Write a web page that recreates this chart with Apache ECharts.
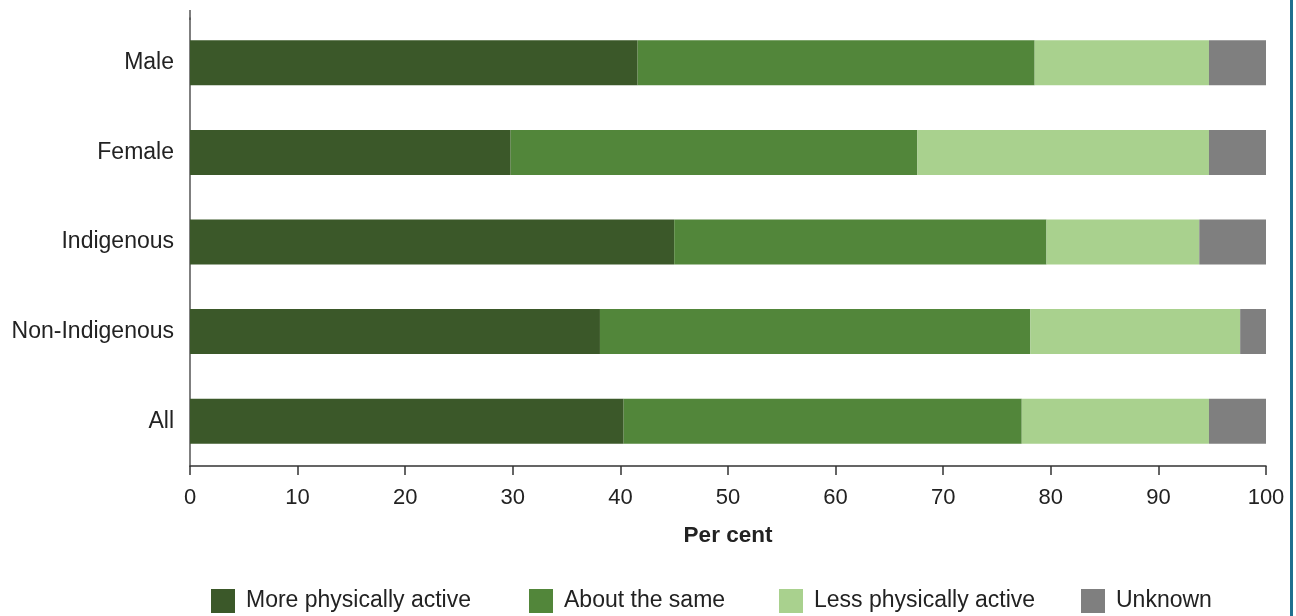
<!DOCTYPE html>
<html>
<head>
<meta charset="utf-8">
<script src="https://cdn.jsdelivr.net/npm/echarts@6/dist/echarts.min.js"></script>
<style>html,body{margin:0;padding:0;background:#fff}#c{width:1296px;height:616px}</style>
</head>
<body>
<div id="c"></div>
<script>
const categories = ['Male', 'Female', 'Indigenous', 'Non-Indigenous', 'All'];
const moreActive = [41.6, 29.8, 45.0, 38.1, 40.3];
const aboutSame = [36.9, 37.8, 34.6, 40.0, 37.0];
const lessActive = [16.2, 27.1, 14.2, 19.5, 17.4];
const unknown = [5.3, 5.3, 6.2, 2.4, 5.3];
const seriesNames = ['More physically active', 'About the same', 'Less physically active', 'Unknown'];
const colors = ['#3b5829', '#52863a', '#a9d18e', '#7f7f7f'];
const xTicks = [0, 10, 20, 30, 40, 50, 60, 70, 80, 90, 100];

const chart = echarts.init(document.getElementById('c'), null, {renderer: 'canvas'});
const data = [moreActive, aboutSame, lessActive, unknown];
const font = 'Liberation Sans, Arial, sans-serif';
const legendLefts = [211, 529, 779, 1081];
chart.setOption({
  animation: false,
  textStyle: {fontFamily: font},
  color: colors,
  grid: {left: 190, right: 30, top: 18, bottom: 150, containLabel: false},
  legend: seriesNames.map((n, i) => ({
    left: legendLefts[i], top: 589, padding: 0, itemWidth: 24, itemHeight: 24,
    icon: 'rect',
    textStyle: {fontSize: 23, color: '#222', fontFamily: font, padding: [6, 0, 0, 6]},
    data: [n]
  })),
  xAxis: {
    type: 'value', min: xTicks[0], max: xTicks[xTicks.length - 1], interval: 10,
    name: 'Per cent', nameLocation: 'middle', nameGap: 58,
    nameTextStyle: {fontSize: 22.5, fontWeight: 'bold', color: '#222', fontFamily: font},
    axisLine: {show: true, lineStyle: {color: '#333', width: 1.5}},
    axisTick: {show: true, length: 9, lineStyle: {color: '#333', width: 1.5}},
    axisLabel: {fontSize: 22, color: '#222', margin: 21, fontFamily: font},
    splitLine: {show: false}
  },
  yAxis: {
    type: 'category', data: categories, inverse: true,
    axisLine: {show: true, lineStyle: {color: '#555', width: 1.5}},
    axisTick: {show: false},
    axisLabel: {fontSize: 23, color: '#222', margin: 16, fontFamily: font, padding: [0, 0, 5, 0]}
  },
  series: seriesNames.map((n, i) => ({
    name: n, type: 'bar', stack: 'total', barWidth: 45,
    data: data[i], itemStyle: {color: colors[i]}
  })),
  graphic: [
    {type: 'rect', left: 1290, top: 0, shape: {width: 3, height: 616}, style: {fill: '#1f6f8e'}},
    {type: 'line', shape: {x1: 190, y1: 10, x2: 190, y2: 20}, style: {stroke: '#555', lineWidth: 1.5}}
  ]
});
</script>
</body>
</html>
